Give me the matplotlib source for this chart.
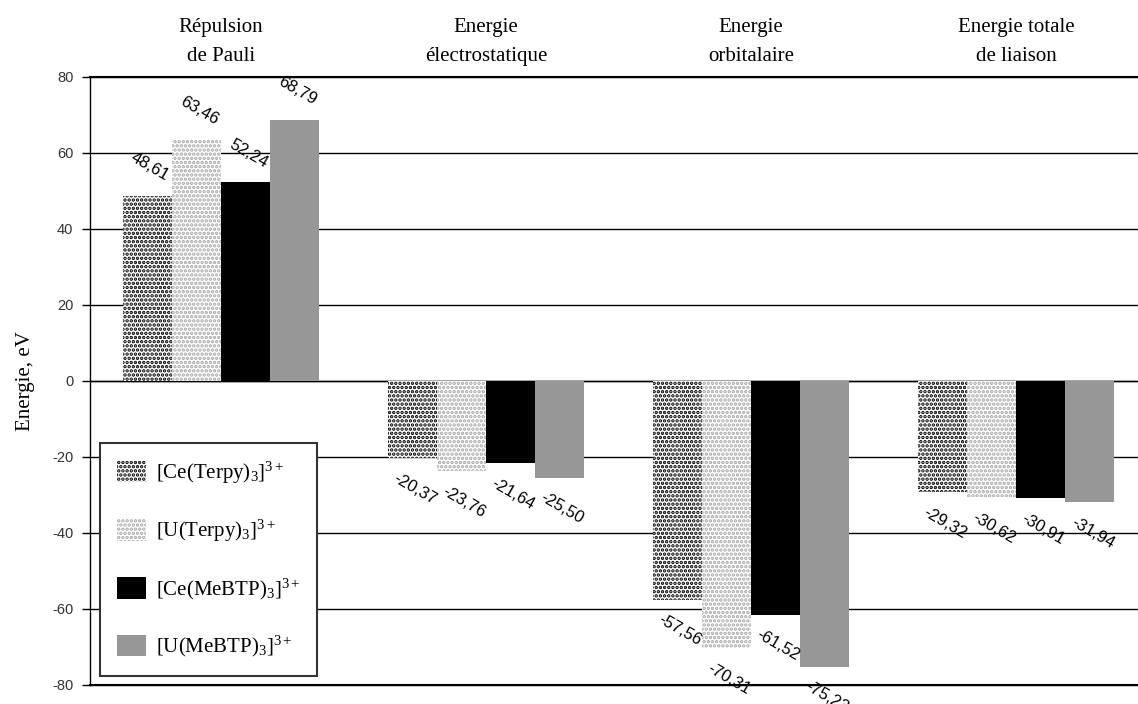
import numpy as np
import matplotlib.pyplot as plt
from matplotlib.patches import Patch

plt.rcParams['font.family'] = ['Liberation Serif', 'DejaVu Serif']
plt.rcParams['mathtext.fontset'] = 'custom'
plt.rcParams['mathtext.rm'] = 'Liberation Serif'
plt.rcParams['mathtext.it'] = 'Liberation Serif'
plt.rcParams['hatch.linewidth'] = 1.7

# --- donnees ---
categories = ['Répulsion\nde Pauli', 'Energie\nélectrostatique',
              'Energie\norbitalaire', 'Energie totale\nde liaison']
series_names = [r'[Ce(Terpy)$_3$]$^{3+}$', r'[U(Terpy)$_3$]$^{3+}$',
                r'[Ce(MeBTP)$_3$]$^{3+}$', r'[U(MeBTP)$_3$]$^{3+}$']
ce_terpy = [48.61, -20.37, -57.56, -29.32]
u_terpy = [63.46, -23.76, -70.31, -30.62]
ce_mebtp = [52.24, -21.64, -61.52, -30.91]
u_mebtp = [68.79, -25.50, -75.23, -31.94]
values = [ce_terpy, u_terpy, ce_mebtp, u_mebtp]

# style des series: (couleur de fond, couleur des points, hachure)
styles = [('white', 'black', '....'),
          ('white', '#a8a8a8', '....'),
          ('black', 'black', None),
          ('#979797', '#979797', None)]

fig = plt.figure(figsize=(11.38, 7.04), dpi=100)
ax = fig.add_axes([90 / 1138, 1 - 685 / 704, 1 - 90 / 1138, (685 - 77) / 704])

x = np.arange(len(categories))
w = 0.185
handles = []
for k, (vals, (fc, ec, hatch)) in enumerate(zip(values, styles)):
    pos = x + (k - 1.5) * w
    bars = ax.bar(pos, vals, w, facecolor=fc, edgecolor=ec, hatch=hatch,
                  linewidth=0, zorder=3)
    handles.append(Patch(facecolor=fc, edgecolor=ec, hatch=hatch, linewidth=0))
    for b, v in zip(bars, vals):
        cx = b.get_x() + b.get_width() / 2
        dy = 21 if v > 0 else -22
        ax.annotate(f'{v:.2f}'.replace('.', ','), (cx, v), xytext=(2, dy),
                    textcoords='offset points', ha='center', va='center',
                    rotation=-30, fontsize=12, family='Liberation Sans',
                    zorder=4, annotation_clip=False)

ax.set_xlim(-0.494, 3.46)
ax.set_ylim(-80, 80)
ax.set_yticks(np.arange(-80, 81, 20))
ax.set_yticklabels([str(t) for t in range(-80, 81, 20)], family='Liberation Sans',
                   fontsize=10.5, color='#333333')
ax.tick_params(axis='y', direction='out', length=6, width=1, pad=6)
ax.set_xticks([])
ax.grid(axis='y', color='black', linewidth=1, zorder=1, clip_on=False)
ax.axhline(0, color='black', linewidth=1, zorder=2)
ax.axhline(-80, color='black', linewidth=1.5, zorder=2, clip_on=False)
ax.axhline(80, color='black', linewidth=1.5, zorder=2, clip_on=False)
for s in ['top', 'right', 'bottom']:
    ax.spines[s].set_visible(False)
ax.spines['left'].set_linewidth(1)
ax.set_ylabel('Energie, eV', fontsize=15, labelpad=12)

for i, c in enumerate(categories):
    ax.text(i, 1.018, c, transform=ax.get_xaxis_transform(), ha='center',
            va='bottom', fontsize=15, linespacing=1.7)

leg = fig.legend(handles, series_names, loc='upper left',
                 bbox_to_anchor=(100 / 1138, 1 - 443 / 704), fontsize=15,
                 handlelength=1.4, handleheight=1.2, labelspacing=1.55,
                 handletextpad=0.5, borderpad=0.8, borderaxespad=0,
                 fancybox=False, edgecolor='#333333', framealpha=1)
leg.get_frame().set_linewidth(1.5)

fig.savefig('out.png', dpi=100)
